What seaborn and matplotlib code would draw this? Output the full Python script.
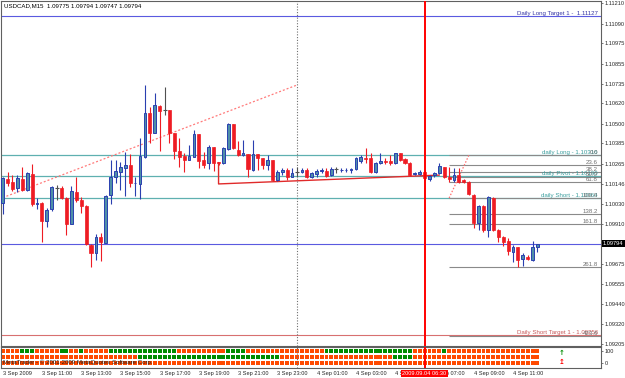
import matplotlib
matplotlib.use("Agg")
import numpy as np
import pandas as pd
import seaborn as sns
import matplotlib.pyplot as plt

# USDCAD M15, one bar per 15 min, 3 Sep 2009 09:00 -> 4 Sep 2009 12:15
opens = [1.10032, 1.10175, 1.10156, 1.10121, 1.10175, 1.10111, 1.10205, 1.10026, 1.10032, 1.09930,
         1.09997, 1.10121, 1.10124, 1.10065, 1.09910, 1.10097, 1.10052, 1.10018, 1.09787, 1.09738,
         1.09836, 1.09800, 1.10081, 1.10185, 1.10218, 1.10238, 1.10258, 1.10149, 1.10146, 1.10307,
         1.10562, 1.10448, 1.10607, 1.10582, 1.10582, 1.10445, 1.10342, 1.10311, 1.10287, 1.10307,
         1.10441, 1.10287, 1.10268, 1.10362, 1.10273, 1.10268, 1.10352, 1.10498, 1.10346, 1.10317,
         1.10323, 1.10228, 1.10323, 1.10297, 1.10258, 1.10287, 1.10170, 1.10218, 1.10228, 1.10189,
         1.10218, 1.10218, 1.10228, 1.10189, 1.10205, 1.10223, 1.10224, 1.10199, 1.10233, 1.10227,
         1.10227, 1.10228, 1.10233, 1.10283, 1.10297, 1.10297, 1.10218, 1.10268, 1.10280, 1.10281,
         1.10271, 1.10327, 1.10291, 1.10271, 1.10207, 1.10205, 1.10218, 1.10174, 1.10199, 1.10209,
         1.10244, 1.10185, 1.10170, 1.10199, 1.10170, 1.10160, 1.10081, 1.09918, 1.10016, 1.09875,
         1.10062, 1.09875, 1.09836, 1.09812, 1.09747, 1.09773, 1.09702, 1.09718, 1.09698, 1.09775]
highs = [1.10189, 1.10218, 1.10199, 1.10199, 1.10248, 1.10218, 1.10262, 1.10065, 1.10042, 1.10003,
         1.10134, 1.10140, 1.10134, 1.10071, 1.10134, 1.10189, 1.10071, 1.10022, 1.09791, 1.09851,
         1.09856, 1.10081, 1.10287, 1.10287, 1.10277, 1.10336, 1.10321, 1.10189, 1.10415, 1.10729,
         1.10601, 1.10680, 1.10611, 1.10719, 1.10582, 1.10446, 1.10417, 1.10329, 1.10376, 1.10464,
         1.10441, 1.10336, 1.10376, 1.10364, 1.10276, 1.10366, 1.10504, 1.10500, 1.10399, 1.10405,
         1.10323, 1.10405, 1.10323, 1.10299, 1.10317, 1.10287, 1.10228, 1.10238, 1.10240, 1.10238,
         1.10248, 1.10238, 1.10238, 1.10217, 1.10233, 1.10238, 1.10238, 1.10248, 1.10248, 1.10238,
         1.10238, 1.10238, 1.10307, 1.10317, 1.10356, 1.10327, 1.10277, 1.10327, 1.10297, 1.10317,
         1.10330, 1.10330, 1.10297, 1.10277, 1.10218, 1.10228, 1.10228, 1.10199, 1.10218, 1.10268,
         1.10248, 1.10248, 1.10238, 1.10238, 1.10175, 1.10164, 1.10087, 1.10022, 1.10022, 1.10075,
         1.10069, 1.09879, 1.09840, 1.09826, 1.09787, 1.09777, 1.09741, 1.09728, 1.09810, 1.09794]
lows = [1.09969, 1.10134, 1.10107, 1.10101, 1.10107, 1.10107, 1.10016, 1.09997, 1.09806, 1.09894,
        1.09989, 1.10052, 1.10056, 1.09846, 1.09908, 1.10042, 1.09973, 1.09787, 1.09655, 1.09698,
        1.09692, 1.09797, 1.10028, 1.10154, 1.10111, 1.10075, 1.10130, 1.10075, 1.10056, 1.10297,
        1.10386, 1.10445, 1.10342, 1.10552, 1.10387, 1.10293, 1.10248, 1.10218, 1.10287, 1.10303,
        1.10240, 1.10238, 1.10233, 1.10224, 1.10258, 1.10264, 1.10346, 1.10352, 1.10311, 1.10311,
        1.10189, 1.10224, 1.10228, 1.10234, 1.10228, 1.10165, 1.10165, 1.10199, 1.10170, 1.10185,
        1.10189, 1.10209, 1.10180, 1.10181, 1.10189, 1.10209, 1.10185, 1.10193, 1.10209, 1.10218,
        1.10218, 1.10209, 1.10228, 1.10268, 1.10268, 1.10213, 1.10213, 1.10262, 1.10262, 1.10258,
        1.10264, 1.10281, 1.10262, 1.10193, 1.10197, 1.10199, 1.10170, 1.10165, 1.10189, 1.10205,
        1.10180, 1.10160, 1.10160, 1.10150, 1.10152, 1.10081, 1.09885, 1.09875, 1.09865, 1.09832,
        1.09869, 1.09806, 1.09781, 1.09728, 1.09688, 1.09655, 1.09663, 1.09698, 1.09694, 1.09747]
closes = [1.10180, 1.10154, 1.10115, 1.10180, 1.10111, 1.10213, 1.10028, 1.10032, 1.09928, 1.09993,
          1.10127, 1.10121, 1.10062, 1.09910, 1.10105, 1.10052, 1.10018, 1.09791, 1.09738, 1.09832,
          1.09803, 1.10075, 1.10189, 1.10223, 1.10248, 1.10258, 1.10154, 1.10154, 1.10311, 1.10562,
          1.10448, 1.10611, 1.10578, 1.10582, 1.10445, 1.10342, 1.10303, 1.10287, 1.10311, 1.10439,
          1.10281, 1.10258, 1.10362, 1.10268, 1.10270, 1.10356, 1.10498, 1.10356, 1.10317, 1.10330,
          1.10233, 1.10323, 1.10297, 1.10258, 1.10287, 1.10170, 1.10218, 1.10228, 1.10189, 1.10213,
          1.10218, 1.10228, 1.10189, 1.10209, 1.10224, 1.10226, 1.10193, 1.10233, 1.10233, 1.10230,
          1.10230, 1.10234, 1.10297, 1.10303, 1.10293, 1.10218, 1.10268, 1.10281, 1.10276, 1.10268,
          1.10327, 1.10287, 1.10268, 1.10199, 1.10211, 1.10218, 1.10180, 1.10193, 1.10213, 1.10252,
          1.10185, 1.10174, 1.10199, 1.10156, 1.10156, 1.10087, 1.09915, 1.10016, 1.09875, 1.10071,
          1.09875, 1.09836, 1.09806, 1.09753, 1.09773, 1.09698, 1.09728, 1.09702, 1.09777, 1.09794]

time_labels = ["3 Sep 2009", "3 Sep 11:00", "3 Sep 13:00", "3 Sep 15:00", "3 Sep 17:00",
               "3 Sep 19:00", "3 Sep 21:00", "3 Sep 23:00", "4 Sep 01:00", "4 Sep 03:00",
               "4 Sep 05:00", "4 Sep 07:00", "4 Sep 09:00", "4 Sep 11:00"]
time_label_bars = [0, 8, 16, 24, 32, 40, 48, 56, 64, 72, 80, 88, 96, 104]

price_ticks = [1.11210, 1.11090, 1.10975, 1.10855, 1.10735, 1.10620, 1.10500, 1.10385, 1.10265,
               1.10146, 1.10030, 1.09910, 1.09675, 1.09555, 1.09440, 1.09320, 1.09205]
last_price = 1.09794

# daily levels drawn by the indicator
long_target, long_target_text = 1.11134, "Daily Long Target 1 -  1.11127"
short_target, short_target_text = 1.09256, "Daily Short Target 1 - 1.09256"
daily_levels = [1.10315, 1.10191, 1.10064]
daily_texts = ["daily Long - 1.10316", "daily Pivot - 1.10190", "daily Short - 1.10064"]

# fibonacci drawn from bar 95 (0 %) down to bar 91 (100 %)
fib_p0, fib_p100 = 1.10314, 1.10063
fib_bar0, fib_bar100 = 95, 91
fib_levels = [0.0, 23.6, 38.2, 50.0, 61.8, 100.0, 138.2, 161.8, 261.8, 423.6]

# hand drawn lines
trend_bars, trend_prices = [0, 60], [1.10065, 1.10729]
red_line_bars, red_line_prices = [44, 44, 89], [1.10272, 1.10146, 1.10198]
day_break_bar = 60
cursor_bar, cursor_text = 86, "2009.09.04 06:30"

# signal panel: bars that are green in each row, the rest are orange
green_row1 = [4, 5, 6, 12, 13, 16, 22, 23, 24, 25, 26, 27, 28, 29, 30, 31, 32, 33, 34, 35,
              46, 47, 48, 49, 66, 67, 68, 69, 70, 71, 72, 73, 74, 75, 76, 77, 78, 79, 80, 81,
              82, 83, 90]
green_row2 = [28, 29, 30, 31, 32, 33, 34, 35, 36, 37, 38, 39, 40, 41, 42, 43, 44, 45, 46, 47,
              48, 49, 50, 51, 52, 53, 54, 55, 56, 80, 81, 82, 83]
green_row3 = []

BULL_FILL, BULL_EDGE, BEAR = "#4f8fa8", "#2a3fb0", "#ee1c24"
FS = 4.4
FS_AXIS = 4.1

sns.set_style("white")
plt.rcParams["font.family"] = ["Liberation Sans", "DejaVu Sans"]

W, H = 625, 378
fig = plt.figure(figsize=(W / 100, H / 100), dpi=100)


def px_axes(x0, y0, x1, y1):
    return fig.add_axes([x0 / W, 1 - y1 / H, (x1 - x0) / W, (y1 - y0) / H])


ax = px_axes(1.5, 1, 601, 346)
ind = px_axes(1.5, 346.5, 601, 368)
xlim = (-0.24, 121.95)

df = pd.DataFrame({"open": opens, "high": highs, "low": lows, "close": closes})
df["bar"] = np.arange(len(df))
up = df[df.close > df.open]
dn = df[df.close < df.open]
fl = df[df.close == df.open]

# levels and drawings under the candles
ax.axhline(long_target, color="#5a5ae0", lw=0.8, zorder=1)
ax.axhline(short_target, color="#d87070", lw=0.8, zorder=1)
ax.axhline(last_price, color="#5a5ae0", lw=0.8, zorder=1)
for lv in daily_levels:
    ax.axhline(lv, color="#5fb0b0", lw=0.9, zorder=1)
fib_prices = [fib_p0 - (fib_p0 - fib_p100) * lv / 100 for lv in fib_levels]
ax.hlines(fib_prices, fib_bar100, xlim[1], color="#8a8a8a", lw=0.8, zorder=1)
ax.plot([fib_bar100, fib_bar0], [fib_p100, fib_p0], color="#ff7070", lw=0.9, ls=(0, (1.2, 1.4)), zorder=1)
sns.lineplot(x=trend_bars, y=trend_prices, ax=ax, color="#ff7a7a", lw=0.9, zorder=1)
ax.lines[-1].set_linestyle((0, (1.6, 1.6)))
ax.plot(red_line_bars, red_line_prices, color="#e02a2a", lw=1.0, zorder=1)
ax.axvline(day_break_bar, color="#707070", lw=0.8, ls=(0, (1, 1.5)), zorder=1)

# candles
ax.vlines(up.bar, up.low, up.high, color=BULL_EDGE, lw=0.8, zorder=2)
ax.vlines(dn.bar, dn.low, dn.high, color=BEAR, lw=0.8, zorder=2)
ax.vlines(fl.bar, fl.low, fl.high, color="#505050", lw=0.8, zorder=2)
ax.bar(up.bar, up.close - up.open, bottom=up.open, width=0.55, color=BULL_FILL,
       edgecolor=BULL_EDGE, linewidth=0.7, zorder=3)
ax.bar(dn.bar, dn.close - dn.open, bottom=dn.open, width=0.62, color=BEAR,
       edgecolor=BEAR, linewidth=0.5, zorder=3)
ax.hlines(fl.close, fl.bar - 0.4, fl.bar + 0.4, color="#505050", lw=0.8, zorder=3)

ax.axvline(cursor_bar, color="#ff0000", lw=1.4, zorder=4)

# texts on the right
yt = ax.get_yaxis_transform()
xr = 1 - 3 / 599.5
ax.text(xr, long_target, long_target_text, transform=yt, ha="right", va="bottom",
        fontsize=FS, color="#3535a5")
ax.text(xr, short_target, short_target_text, transform=yt, ha="right", va="bottom",
        fontsize=FS, color="#c85a5a")
for lv, t in zip(daily_levels, daily_texts):
    ax.text(xr, lv, t, transform=yt, ha="right", va="bottom", fontsize=FS, color="#3a9e9e")
for lv, p in zip(fib_levels, fib_prices):
    ax.text(xr, p, f"{lv:.1f}", transform=yt, ha="right", va="bottom", fontsize=FS, color="#707070")

ax.set_xlim(*xlim)
ax.set_ylim(1.09191, 1.11224)
ax.set_xticks([])
ax.yaxis.tick_right()
ax.set_yticks(price_ticks)
ax.set_yticklabels([f"{p:.5f}" for p in price_ticks])
ax.tick_params(axis="y", length=1.5, width=0.6, pad=0.8, labelsize=FS_AXIS, color="#606060")
ax.text(1 + 2.0 / 599.5, last_price, f"{last_price:.5f}", transform=yt, ha="left", va="center",
        fontsize=FS_AXIS, color="white", bbox=dict(facecolor="black", edgecolor="none", pad=0.8))

# signal panel
rows = []
for r, greens in zip([2, 1, 0], [green_row1, green_row2, green_row3]):
    for b in range(len(df)):
        rows.append({"bar": b, "row": r, "state": "up" if b in greens else "down"})
sig = pd.DataFrame(rows)
sns.scatterplot(data=sig, x="bar", y="row", hue="state", palette={"up": "#008c00", "down": "#ff4a00"},
                marker="s", s=8, linewidth=0, legend=False, ax=ind, zorder=2)
ind.axvline(day_break_bar, color="#707070", lw=0.8, ls=(0, (1, 1.5)), zorder=3)
ind.axvline(cursor_bar, color="#ff0000", lw=1.4, zorder=4)
ind.text(114, 1.65, "\u2191", color="#008c00", ha="center", va="center", fontsize=5,
         family="DejaVu Sans", fontweight="bold")
ind.text(114, 0.2, "\u21a5", color="#ff0000", ha="center", va="center", fontsize=5,
         family="DejaVu Sans", fontweight="bold")
ind.set_xlim(*xlim)
ind.set_ylim(-0.75, 2.75)
ind.set_xlabel("")
ind.set_ylabel("")
ind.yaxis.tick_right()
ind.set_yticks([2, 0])
ind.set_yticklabels(["100", "0"])
ind.set_xticks(time_label_bars)
ind.set_xticklabels(time_labels, ha="left")
ind.tick_params(axis="both", length=1.5, width=0.6, pad=1.0, labelsize=FS_AXIS, color="#606060")

for a in (ax, ind):
    for s in a.spines.values():
        s.set_color("#606060")
        s.set_linewidth(0.8)

fig.text(4 / W, 1 - 6 / H, "USDCAD,M15  1.09775 1.09794 1.09747 1.09794", va="center",
         fontsize=FS, color="black")
fig.text(3 / W, 1 - 362.5 / H, "MetaTrader - \u00a9 2001-2009 MetaQuotes Software Corp.",
         va="center", fontsize=FS, color="#202020")
fig.text(424.5 / W, 1 - 373.5 / H, cursor_text, ha="center", va="center", fontsize=FS_AXIS,
         color="white", bbox=dict(facecolor="#ff0000", edgecolor="none", pad=1.0))

fig.savefig("out.png", dpi=100, facecolor="white")
